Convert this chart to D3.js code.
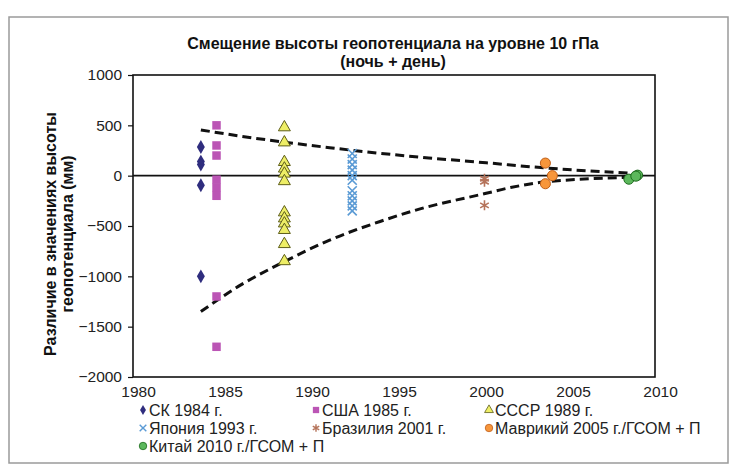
<!DOCTYPE html>
<html lang="ru">
<head>
<meta charset="utf-8">
<script src="https://cdn.jsdelivr.net/npm/d3@7"></script>
<style>
  html, body { margin: 0; padding: 0; background: #fff; }
  svg { display: block; font-family: "Liberation Sans", Arial, sans-serif; }
</style>
</head>
<body>
<svg id="chart" width="737" height="474"></svg>
<script>
// Axis ticks
const xTicks = [1980, 1985, 1990, 1995, 2000, 2005, 2010];
const yTicks = [1000, 500, 0, -500, -1000, -1500, -2000];

// Geopotential height offsets (mm) by campaign: [year, value]
const ckPoints = [[1983.9, 285], [1983.9, 140], [1983.9, 110], [1983.9, -95], [1983.9, -1000]];
const usaPoints = [[1984.8, 500], [1984.8, 300], [1984.8, 200], [1984.8, -40], [1984.8, -120], [1984.8, -200], [1984.8, -1200], [1984.8, -1700]];
const ussrPoints = [[1988.7, 480], [1988.7, 330], [1988.7, 135], [1988.7, 70], [1988.7, 20], [1988.7, -55], [1988.7, -365], [1988.7, -425], [1988.7, -475], [1988.7, -540], [1988.7, -680], [1988.7, -850]];
const japanPoints = [[1992.6, 220], [1992.6, 165], [1992.6, 110], [1992.6, 55], [1992.6, 0], [1992.6, -45], [1992.6, -150], [1992.6, -200], [1992.6, -250], [1992.6, -300], [1992.6, -350]];
const brazilPoints = [[2000.2, -30], [2000.2, -60], [2000.2, -295]];
const mauritiusPoints = [[2003.7, 125], [2004.1, 0], [2003.7, -80]];
const chinaPoints = [[2008.5, -35], [2009.0, 5], [2008.9, -5]];

// Envelope trend lines (mm)
const upperEnvelope = [[1983.9, 454], [1986.2, 392], [1988.7, 333], [1991.3, 278], [1994.2, 222], [1997.0, 176], [2000.3, 128], [2003.6, 78], [2008.8, 22]];
const lowerEnvelope = [[1983.9, -1350], [1986.2, -1085], [1988.7, -854], [1991.3, -640], [1994.2, -455], [1996.5, -330], [2000.3, -175], [2001.7, -118], [2003.6, -64], [2008.8, -16]];

const titleLines = ["Смещение высоты геопотенциала на уровне 10 гПа", "(ночь + день)"];
const yTitleLines = ["Различие в значениях высоты", "геопотенциала (мм)"];

const series = [
  { name: "СК 1984 г.", data: ckPoints, symbol: d3.symbolDiamond, size: 55, fill: "#2f2d7e", stroke: "none" },
  { name: "США 1985 г.", data: usaPoints, symbol: d3.symbolSquare, size: 72, fill: "#bb55b5", stroke: "none" },
  { name: "СССР 1989 г.", data: ussrPoints, symbol: d3.symbolTriangle, size: 62, fill: "#eeee66", stroke: "#5e5e1a" },
  { name: "Япония 1993 г.", data: japanPoints, symbol: d3.symbolX, size: 55, fill: "none", stroke: "#5b9bd5" },
  { name: "Бразилия 2001 г.", data: brazilPoints, symbol: d3.symbolAsterisk, size: 70, fill: "none", stroke: "#b5735a" },
  { name: "Маврикий 2005 г./ГСОМ + П", data: mauritiusPoints, symbol: d3.symbolCircle, size: 80, fill: "#f7963b", stroke: "#c0601a" },
  { name: "Китай 2010 г./ГСОМ + П", data: chinaPoints, symbol: d3.symbolCircle, size: 80, fill: "#5cb85c", stroke: "#1d6b1d" }
];

const svg = d3.select("#chart");

// outer frame
svg.append("rect")
  .attr("x", 9).attr("y", 17).attr("width", 719).attr("height", 446)
  .attr("fill", "#fff").attr("stroke", "#9a9a9a").attr("stroke-width", 1.5);

const plot = { left: 133, right: 655, top: 75, bottom: 377 };

const x = d3.scaleLinear().domain([1980, 2010]).range([plot.left, plot.right]);
const y = d3.scaleLinear().domain([-2000, 1000]).range([plot.bottom, plot.top]);

// title, one text per line
svg.append("g").selectAll("text").data(titleLines).join("text")
  .attr("x", 393).attr("y", (d, i) => 49 + i * 17.5)
  .attr("text-anchor", "middle")
  .attr("font-size", i => 16).attr("font-weight", "bold").attr("fill", "#111")
  .text(d => d);

// y axis title
svg.append("g").attr("transform", "translate(0,234) rotate(-90)")
  .selectAll("text").data(yTitleLines).join("text")
  .attr("x", 0).attr("y", (d, i) => 56 + i * 17)
  .attr("text-anchor", "middle")
  .attr("font-size", 16).attr("font-weight", "bold").attr("fill", "#111")
  .text(d => d);

// y axis
const yAxis = svg.append("g")
  .attr("transform", `translate(${plot.left},0)`)
  .call(d3.axisLeft(y).tickValues(yTicks).tickSize(5).tickPadding(6).tickFormat(d3.format("d")));
yAxis.select(".domain").remove();
yAxis.selectAll(".tick line").attr("stroke", "#111").attr("stroke-width", 1.2);
yAxis.selectAll(".tick text").attr("font-size", 15.5).attr("fill", "#222")
  .attr("font-family", "\"Liberation Sans\", Arial, sans-serif");

// x axis
const xAxis = svg.append("g")
  .attr("transform", `translate(0,${plot.bottom})`)
  .call(d3.axisBottom(x).tickValues(xTicks).tickSize(0).tickPadding(9).tickFormat(d3.format("d")));
xAxis.select(".domain").remove();
xAxis.selectAll(".tick text").attr("font-size", 15.5).attr("fill", "#222").attr("dx", 5)
  .attr("font-family", "\"Liberation Sans\", Arial, sans-serif");

// plot area border
svg.append("rect")
  .attr("x", plot.left).attr("y", plot.top)
  .attr("width", plot.right - plot.left).attr("height", plot.bottom - plot.top)
  .attr("fill", "none").attr("stroke", "#111").attr("stroke-width", 1.6);

// zero line
svg.append("line")
  .attr("x1", plot.left).attr("x2", plot.right)
  .attr("y1", y(0)).attr("y2", y(0))
  .attr("stroke", "#111").attr("stroke-width", 1.6);

// envelope lines
const line = d3.line().x(d => x(d[0])).y(d => y(d[1])).curve(d3.curveMonotoneX);
[upperEnvelope, lowerEnvelope].forEach(env => {
  svg.append("path")
    .attr("d", line(env))
    .attr("fill", "none").attr("stroke", "#111")
    .attr("stroke-width", 3).attr("stroke-dasharray", "9,5");
});

// markers
series.forEach(s => {
  const sym = d3.symbol().type(s.symbol).size(s.size);
  svg.append("g").selectAll("path").data(s.data).join("path")
    .attr("transform", d => `translate(${x(d[0])},${y(d[1])})`)
    .attr("d", sym)
    .attr("fill", s.fill)
    .attr("stroke", s.stroke)
    .attr("stroke-width", s.fill === "none" ? 1.6 : 1);
});

// legend
const legendCols = [143, 316, 489];
const legendRows = [410, 428, 446];
series.forEach((s, i) => {
  const cx = legendCols[i % 3], cy = legendRows[Math.floor(i / 3)];
  const g = svg.append("g").attr("transform", `translate(${cx},${cy})`);
  g.append("path")
    .attr("d", d3.symbol().type(s.symbol).size(s.size * 0.55)())
    .attr("fill", s.fill).attr("stroke", s.stroke)
    .attr("stroke-width", s.fill === "none" ? 1.4 : 0.8);
  g.append("text")
    .attr("x", 6).attr("y", 5.5)
    .attr("font-size", 16).attr("fill", "#222")
    .text(s.name);
});
</script>
</body>
</html>
